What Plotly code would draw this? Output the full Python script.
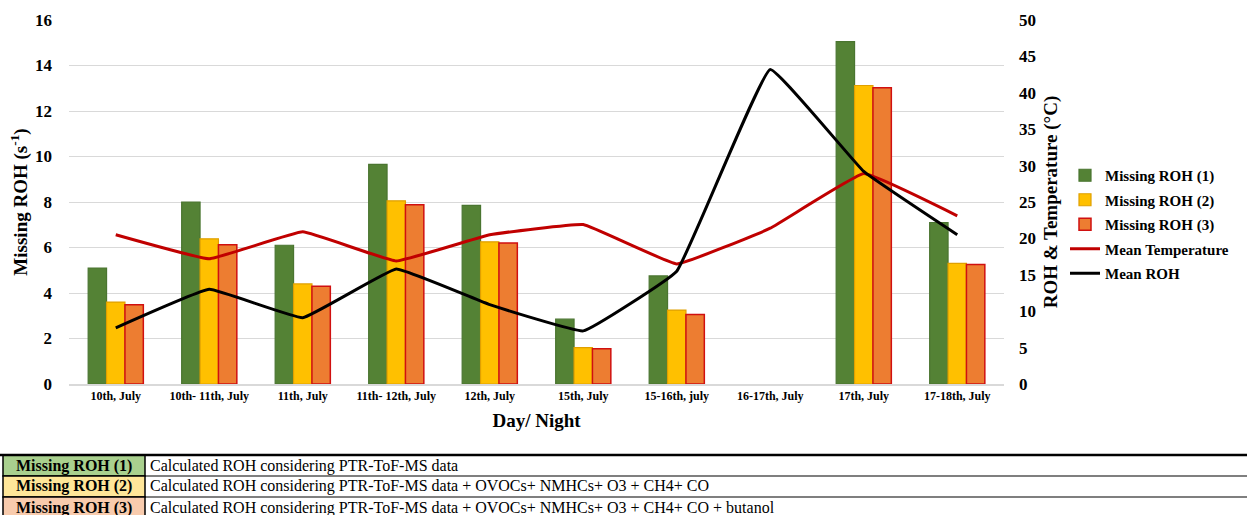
import plotly.graph_objects as go

categories = ["10th, July", "10th- 11th, July", "11th, July", "11th- 12th, July", "12th, July",
              "15th, July", "15-16th, july", "16-17th, July", "17th, July", "17-18th, July"]
missing_roh_1 = [5.1, 8.0, 6.1, 9.65, 7.85, 2.85, 4.75, None, 15.05, 7.1]
missing_roh_2 = [3.6, 6.38, 4.4, 8.05, 6.25, 1.6, 3.25, None, 13.12, 5.3]
missing_roh_3 = [3.48, 6.12, 4.3, 7.88, 6.2, 1.55, 3.05, None, 13.02, 5.25]
mean_temperature = [20.5, 17.2, 20.9, 16.9, 20.5, 21.9, 16.5, 21.4, 28.9, 23.1]
mean_roh = [7.7, 13.0, 9.1, 15.8, 10.9, 7.3, 15.5, 43.2, 29.2, 20.5]

table_labels = ["Missing ROH (1)", "Missing ROH (2)", "Missing ROH (3)"]
table_desc = ["Calculated ROH considering PTR-ToF-MS data",
              "Calculated ROH considering PTR-ToF-MS data + OVOCs+ NMHCs+ O3 + CH4+ CO",
              "Calculated ROH considering PTR-ToF-MS data + OVOCs+ NMHCs+ O3 + CH4+ CO + butanol"]
table_fills = ["#A9D08E", "#FFE699", "#F8CBAD"]

FONT = "Liberation Serif"
W, H = 1247, 515
L, R, T, B = 69, 243, 20, 131
PW, PH = W - L - R, H - T - B

def px(x):
    return (x - L) / PW

def py(y):
    return (H - B - y) / PH

fig = go.Figure()
fig.add_trace(go.Bar(x=categories, y=missing_roh_1, name="Missing ROH (1)", legendgroup="a",
                     marker=dict(color="#548235", line=dict(color="#4A7530", width=1.2))))
fig.add_trace(go.Bar(x=categories, y=missing_roh_2, name="Missing ROH (2)", legendgroup="b",
                     marker=dict(color="#FFC000", line=dict(color="#E0A000", width=1.2))))
fig.add_trace(go.Bar(x=categories, y=missing_roh_3, name="Missing ROH (3)", legendgroup="c",
                     marker=dict(color="#ED7D31", line=dict(color="#D01010", width=1.5))))
fig.add_trace(go.Scatter(x=categories, y=mean_temperature, name="Mean Temperature", yaxis="y2",
                         legendgroup="d", mode="lines",
                         line=dict(color="#C00000", width=3, shape="spline", smoothing=0.25)))
fig.add_trace(go.Scatter(x=categories, y=mean_roh, name="Mean ROH", yaxis="y2",
                         legendgroup="e", mode="lines",
                         line=dict(color="#000000", width=3, shape="spline", smoothing=0.25)))

shapes = []
annotations = []
row_tops = [455, 476, 497]
row_bots = [476, 497, 518]
for i in range(3):
    shapes.append(dict(type="rect", xref="paper", yref="paper",
                       x0=px(3), x1=px(145), y0=py(row_tops[i]), y1=py(row_bots[i]),
                       fillcolor=table_fills[i], line=dict(color="black", width=1.5), layer="above"))
    shapes.append(dict(type="line", xref="paper", yref="paper",
                       x0=px(145), x1=px(W), y0=py(row_bots[i]), y1=py(row_bots[i]),
                       line=dict(color="black", width=1.2)))
    annotations.append(dict(xref="paper", yref="paper", x=px(74), y=py((row_tops[i] + row_bots[i]) / 2),
                            text="<b>" + table_labels[i] + "</b>", showarrow=False,
                            xanchor="center", yanchor="middle",
                            font=dict(family=FONT, size=16, color="black")))
    annotations.append(dict(xref="paper", yref="paper", x=px(148), y=py((row_tops[i] + row_bots[i]) / 2),
                            text=table_desc[i], showarrow=False,
                            xanchor="left", yanchor="middle",
                            font=dict(family=FONT, size=16, color="black")))
shapes.append(dict(type="line", xref="paper", yref="paper",
                   x0=px(0), x1=px(W), y0=py(455), y1=py(455),
                   line=dict(color="black", width=2.5)))

fig.update_layout(
    width=W, height=H,
    margin=dict(l=L, r=R, t=T, b=B, autoexpand=False),
    paper_bgcolor="white", plot_bgcolor="white",
    barmode="group", bargap=0.41, bargroupgap=0.0,
    font=dict(family=FONT, color="black"),
    xaxis=dict(
        automargin=False,
        tickfont=dict(family=FONT, size=12, weight="bold"),
        showline=True, linecolor="#d9d9d9", linewidth=1.5,
        ticks="", showgrid=False,
        title=dict(text="<b>Day/ Night</b>", font=dict(family=FONT, size=19), standoff=12),
    ),
    yaxis=dict(
        automargin=False,
        range=[0, 16], dtick=2,
        tickfont=dict(family=FONT, size=17, weight="bold"),
        showgrid=True, gridcolor="#d9d9d9", gridwidth=1,
        zeroline=False, showline=False, ticks="",
        ticklabelstandoff=16,
        title=dict(text="<b>Missing ROH (s<sup>-1</sup>)</b>", font=dict(family=FONT, size=19), standoff=2),
    ),
    yaxis2=dict(
        automargin=False,
        range=[0, 50], dtick=5, overlaying="y", side="right",
        tickfont=dict(family=FONT, size=17, weight="bold"),
        showgrid=False, zeroline=False, showline=False, ticks="",
        ticklabelstandoff=14,
        title=dict(text="<b>ROH & Temperature (°C)</b>", font=dict(family=FONT, size=19), standoff=8),
    ),
    legend=dict(xref="container", yref="container", x=1065 / W, y=(H - 159) / H,
                xanchor="left", yanchor="top",
                font=dict(family=FONT, size=15, weight="bold"),
                bgcolor="rgba(0,0,0,0)", itemwidth=30, tracegroupgap=2),
    shapes=shapes,
    annotations=annotations,
)

fig.write_html("out.html", config={"displayModeBar": False},
               post_script="document.body.style.margin='0';")
